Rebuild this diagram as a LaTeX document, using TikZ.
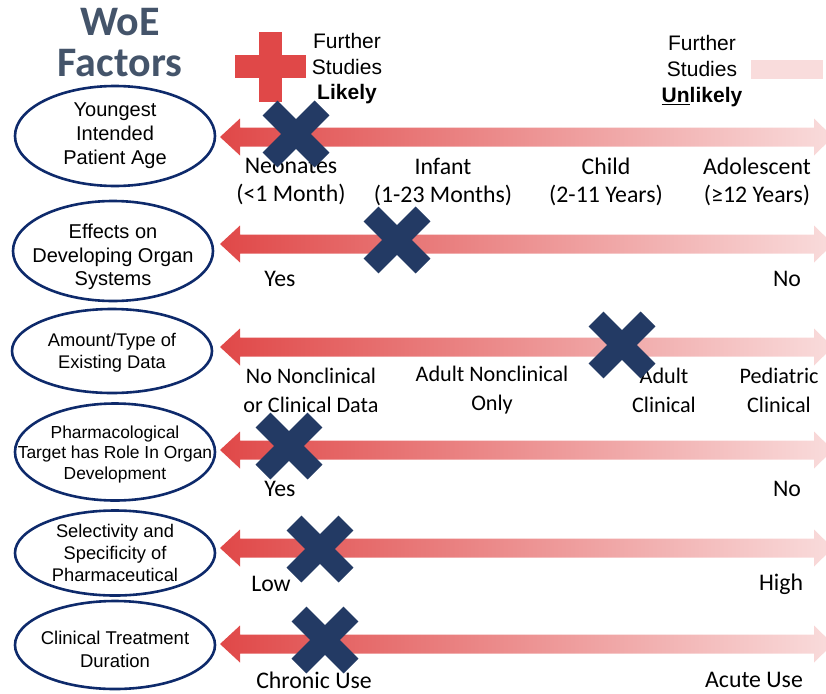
\documentclass[tikz,border=0pt]{standalone}
\usepackage{fontspec}
\setmainfont{Liberation Sans}
\newfontfamily\calibri{Carlito}
\usetikzlibrary{calc,positioning,shapes.geometric}
\definecolor{woeTitle}{HTML}{44546A}
\definecolor{woeRed}{HTML}{E04848}
\definecolor{woePink}{HTML}{F9DCDC}
\definecolor{woeNavy}{HTML}{233A64}
\definecolor{woeRing}{HTML}{0E2A6B}
\tikzset{
    factor/.style={
      ellipse, draw=woeRing, line width=2.6pt, inner sep=0pt,
      minimum width=200pt, minimum height=#1,
    },
    factortext/.style={
      align=center, inner sep=0pt, font=\fontsize{18.3}{22.5}\selectfont,
    },
    scaletext/.style={
      align=center, inner sep=0pt, font=\calibri\fontsize{23.8}{28}\selectfont,
    },
  }
\newcommand*{\woearrow}[1]{%
  \shade[left color=woeRed, right color=woePink]
    (220,#1) -- (240,#1-18.5) -- (240,#1-9.5) -- (814,#1-9.5) -- (814,#1-18.5)
    -- (833,#1) -- (814,#1+18.5) -- (814,#1+9.5) -- (240,#1+9.5) -- (240,#1+18.5) -- cycle;}

\begin{document}
\begin{tikzpicture}[x=1pt,y=-1pt]
      \clip (0,0) rectangle (826,693);

      % title
      \node[align=center, inner sep=0pt, text=woeTitle, font=\calibri\bfseries\fontsize{42}{41}\selectfont]
        (title) at (120,43) {WoE\\Factors};

      % legend
      \fill[woeRed] (259,32) rectangle (282,102);
      \fill[woeRed] (235,55) rectangle (306,78);
      \node[align=center, inner sep=0pt, font=\fontsize{21}{25.5}\selectfont]
        (likely) at (347,69) {Further\\Studies\\\textbf{Likely}};
      \node[align=center, inner sep=0pt, font=\fontsize{21}{26}\selectfont]
        (unlikely) at (702,71) {Further\\Studies\\\textbf{\underline{Un}likely}};
      \fill[woePink] (751,60) rectangle (823,79);

      % scale arrows
      \foreach \y in {137,244,347,450,548,644} {\woearrow{\y}}

      % factor ellipses
      \node[factor=100pt] (f1) at (115,136) {};
      \node[factor=100pt] (f2) at (113,251) {};
      \node[factor=84pt]  (f3) at (112,351) {};
      \node[factor=97pt]  (f4) at (115,452) {};
      \node[factor=85pt]  (f5) at (115,553) {};
      \node[factor=88pt]  (f6) at (115,645) {};

      % factor texts
      \node[factortext, font=\fontsize{20}{24}\selectfont] (t1) at (115,136) {Youngest\\Intended\\Patient Age};
      \node[factortext, font=\fontsize{20}{23.5}\selectfont] (t2) at (113,257) {Effects on\\Developing Organ\\Systems};
      \node[factortext] (t3) at (112,353) {Amount/Type of\\Existing Data};
      \node[factortext, font=\fontsize{17.4}{20.5}\selectfont] (t4) at (115,454) {Pharmacological\\Target has Role In Organ\\Development};
      \node[factortext, font=\fontsize{18.3}{22}\selectfont] (t5) at (115,553) {Selectivity and\\Specificity of\\Pharmaceutical};
      \node[factortext, font=\fontsize{18.5}{23}\selectfont] (t6) at (115,649) {Clinical Treatment\\Duration};

      % age labels
      \node[scaletext] (a1) at (291,182) {Neonates\\(<1 Month)};
      \node[scaletext] (a2) at (443,182) {Infant\\(1-23 Months)};
      \node[scaletext] (a3) at (606,182) {Child\\(2-11 Years)};
      \node[scaletext] (a4) at (757,182) {Adolescent\\(≥12 Years)};

      % organ system labels
      \node[scaletext] (b1) at (280,279) {Yes};
      \node[scaletext] (b2) at (787,279) {No};

      % data labels
      \node[scaletext, font=\calibri\fontsize{22.2}{29}\selectfont] (c1) at (311,390) {No Nonclinical\\or Clinical Data};
      \node[scaletext, font=\calibri\fontsize{22.2}{29}\selectfont] (c2) at (492,390) {Adult Nonclinical\\Only};
      \node[scaletext, font=\calibri\fontsize{22.2}{29}\selectfont] (c3) at (664,390) {Adult\\Clinical};
      \node[scaletext, font=\calibri\fontsize{22.2}{29}\selectfont] (c4) at (779,390) {Pediatric\\Clinical};

      % target labels
      \node[scaletext] (d1) at (280,489) {Yes};
      \node[scaletext] (d2) at (787,489) {No};

      % selectivity labels
      \node[scaletext] (e1) at (271,584) {Low};
      \node[scaletext] (e2) at (781,584) {High};

      % duration labels
      \node[scaletext] (g1) at (314,680) {Chronic Use};
      \node[scaletext] (g2) at (754,680) {Acute Use};

      % crosses
      \foreach \cx/\cy in {296/134, 397/240, 622/345, 289/446, 320/549, 325/640} {
        \draw[woeNavy, line width=21pt] (\cx-26,\cy-26) -- (\cx+26,\cy+26);
        \draw[woeNavy, line width=21pt] (\cx-26,\cy+26) -- (\cx+26,\cy-26);
      }
    \end{tikzpicture}
\end{document}
